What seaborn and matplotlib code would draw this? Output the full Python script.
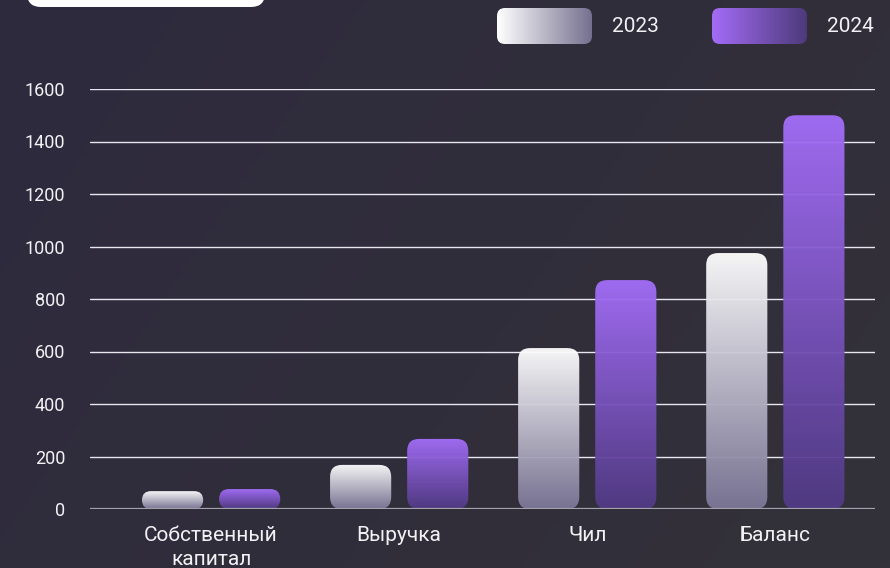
import numpy as np
import pandas as pd
import matplotlib
matplotlib.use("Agg")
import matplotlib.pyplot as plt
from matplotlib.patches import FancyBboxPatch
from matplotlib.colors import LinearSegmentedColormap, to_hex
import seaborn as sns

sns.set_theme(style="white")
plt.rcParams['font.family'] = ['Roboto', 'DejaVu Sans']

# data
categories = ["Собственный\nкапитал", "Выручка", "Чил", "Баланс"]
years = ["2023", "2024"]
values_2023 = [68, 168, 613, 975]
values_2024 = [76, 267, 872, 1500]
y_ticks = [0, 200, 400, 600, 800, 1000, 1200, 1400, 1600]

df = pd.DataFrame({
    'category': categories * 2,
    'year': [years[0]] * 4 + [years[1]] * 4,
    'value': values_2023 + values_2024,
})

palette = {'2023': '#ffffff', '2024': '#a46ef9'}
bar_grad = {
    '2023': LinearSegmentedColormap.from_list('g23', ['#7b7696', '#ffffff']),
    '2024': LinearSegmentedColormap.from_list('g24', ['#513a84', '#a46ef9']),
}
leg_grad = {
    '2023': LinearSegmentedColormap.from_list('l23', ['#ffffff', '#75708f']),
    '2024': LinearSegmentedColormap.from_list('l24', ['#a46cf7', '#4d3a7a']),
}

W, H = 890, 568
fig = plt.figure(figsize=(W / 100, H / 100), dpi=100)

# background
bg = fig.add_axes([0, 0, 1, 1], zorder=-1)
gx, gy = np.meshgrid(np.linspace(0, 1, 200), np.linspace(0, 1, 120))
bg_cmap = LinearSegmentedColormap.from_list('bg', ['#2e2a3e', '#333139'])
bg.imshow(0.7 * gx + 0.3 * gy, cmap=bg_cmap, aspect='auto', extent=(0, 1, 0, 1))
bg.axis('off')

ax = fig.add_axes([90 / W, 59 / H, 785 / W, 420 / H])
ax.set_facecolor('none')
sns.barplot(data=df, x='category', y='value', hue='year', palette=palette,
            width=0.82, gap=0.207, legend=False, ax=ax, order=categories)

xlim = (-0.644, 3.53)
ylim = (0, 1600)
ax.set_xlim(*xlim)
ax.set_ylim(*ylim)

# pixel scale per data unit
p0 = ax.transData.transform((0, 0))
p1 = ax.transData.transform((1, 1))
sx, sy = p1[0] - p0[0], p1[1] - p0[1]

grad = np.linspace(0, 1, 256).reshape(-1, 1)
for bar in list(ax.patches):
    x, w, h = bar.get_x(), bar.get_width(), bar.get_height()
    fc = to_hex(bar.get_facecolor())
    year = '2023' if fc == palette['2023'] else '2024'
    bar.set_visible(False)
    r = min(12, h * sy / 2, w * sx / 2)
    shape = FancyBboxPatch((x, 0), w, h,
                           boxstyle=f"round,pad=0,rounding_size={r / sx}",
                           mutation_aspect=sx / sy, fc='none', ec='none')
    ax.add_patch(shape)
    im = ax.imshow(grad, extent=(x, x + w, 0, h), aspect='auto',
                   cmap=bar_grad[year], origin='lower', zorder=2, alpha=0.96)
    im.set_clip_path(shape)

ax.set_xlim(*xlim)
ax.set_ylim(*ylim)
ax.set_yticks(y_ticks)
ax.set_yticklabels([str(t) for t in y_ticks])
ax.grid(axis='y', color='#e8e6ee', lw=1)
ax.grid(axis='x', visible=False)
ax.set_axisbelow(True)
ax.axhline(0, color='#a3a1ab', lw=1.6, zorder=3)
for s in ax.spines.values():
    s.set_visible(False)
ax.tick_params(axis='y', length=0, pad=18, labelsize=13, labelcolor='#f2f2f5')
ax.tick_params(axis='x', length=0, pad=12, labelsize=15, labelcolor='#f2f2f5')
for lbl in ax.get_xticklabels():
    lbl.set_linespacing(1.35)
ax.set_xlabel('')
ax.set_ylabel('')

# overlay: legend and top-left box
ov = fig.add_axes([0, 0, 1, 1], zorder=5)
ov.set_xlim(0, W)
ov.set_ylim(H, 0)
ov.axis('off')
ov.add_patch(FancyBboxPatch((27, -40), 238, 47, boxstyle="round,pad=0,rounding_size=14",
                            fc='white', ec='none'))
hgrad = np.linspace(0, 1, 256).reshape(1, -1)
for year, sx0, tx in [('2023', 497, 612), ('2024', 712, 827)]:
    sw = FancyBboxPatch((sx0, 8), 95, 36, boxstyle="round,pad=0,rounding_size=8",
                        fc='none', ec='none')
    ov.add_patch(sw)
    im = ov.imshow(hgrad, extent=(sx0, sx0 + 95, 44, 8), aspect='auto', cmap=leg_grad[year])
    im.set_clip_path(sw)
    ov.text(tx, 26, year, color='#f2f2f5', fontsize=15, va='center', ha='left')
ov.set_xlim(0, W)
ov.set_ylim(H, 0)

fig.savefig('out.png', dpi=100)
